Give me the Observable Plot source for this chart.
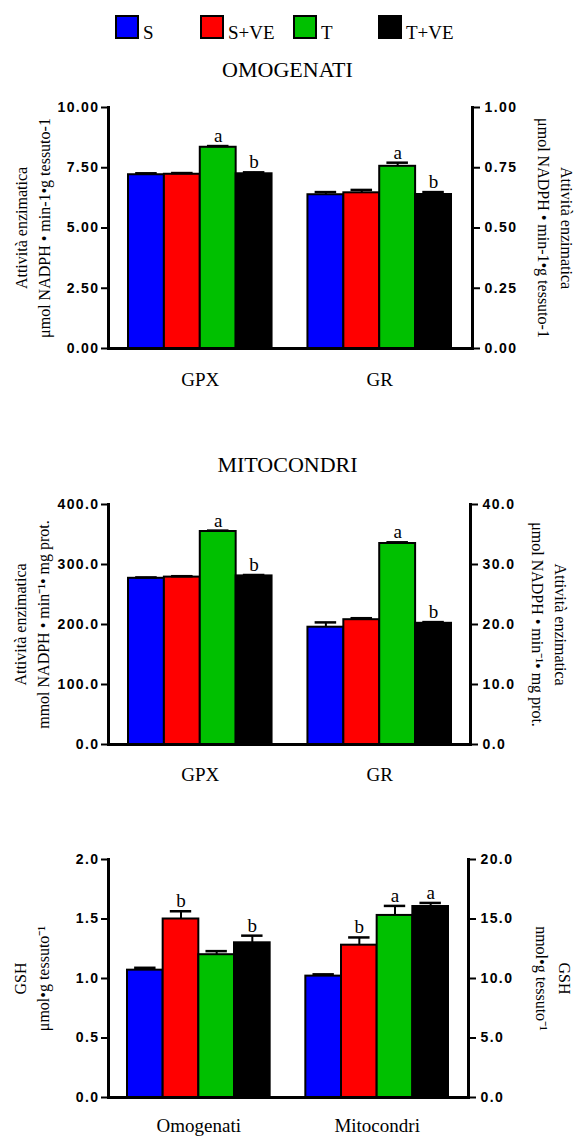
<!DOCTYPE html>
<html><head><meta charset="utf-8">
<script src="https://cdn.jsdelivr.net/npm/d3@7"></script>
<script src="https://cdn.jsdelivr.net/npm/@observablehq/plot@0.6"></script>
<style>
body{margin:0;background:#fff;}
#root{position:relative;width:575px;height:1136px;overflow:hidden;font-family:"Liberation Serif","Times New Roman",serif;color:#000;}
.title{position:absolute;left:0;width:575px;text-align:center;font-size:22px;line-height:1;}
.legend-item{position:absolute;top:15px;display:flex;align-items:flex-end;font-size:19px;line-height:1;}
.sw{width:20px;height:20px;border:2.5px solid #000;}
.legend-item span{margin-left:4px;position:relative;top:3px;}
.panel{position:absolute;left:0;}
.panel svg{overflow:visible;}
.panel g[aria-label="y-axis tick label"]{font:bold 14px "Liberation Sans",Arial,sans-serif;letter-spacing:1.4px;}
</style></head>
<body><div id="root"></div>
<script>
// ---- data ----
const series = ["S", "S+VE", "T", "T+VE"];
const seriesColors = ["#0000ff", "#ff0000", "#00c000", "#000000"];

// Panel 1: OMOGENATI
const p1Title = "OMOGENATI";
const p1Groups = ["GPX", "GR"];
const p1GPX = [7.21, 7.23, 8.35, 7.25];
const p1GPXErr = [0.06, 0.05, 0.05, 0.06];
const p1GR = [0.638, 0.646, 0.756, 0.639];
const p1GRErr = [0.011, 0.012, 0.015, 0.010];
const p1GPXLetters = ["", "", "a", "b"];
const p1GRLetters = ["", "", "a", "b"];
const p1LeftTicks = [0, 2.5, 5, 7.5, 10];
const p1RightTicks = [0, 0.25, 0.5, 0.75, 1];
const p1LeftTitle = "Attività enzimatica\nμmol NADPH • min-1•g tessuto-1";
const p1RightTitle = "Attività enzimatica\nμmol NADPH • min-1•g tessuto-1";

// Panel 2: MITOCONDRI
const p2Title = "MITOCONDRI";
const p2Groups = ["GPX", "GR"];
const p2GPX = [277, 279, 355, 281];
const p2GPXErr = [1.5, 1.5, 1.5, 1.5];
const p2GR = [19.55, 20.8, 33.5, 20.2];
const p2GRErr = [0.8, 0.25, 0.2, 0.2];
const p2GPXLetters = ["", "", "a", "b"];
const p2GRLetters = ["", "", "a", "b"];
const p2LeftTicks = [0, 100, 200, 300, 400];
const p2RightTicks = [0, 10, 20, 30, 40];
const p2LeftTitle = "Attività enzimatica\nmmol NADPH • min⁻¹• mg prot.";
const p2RightTitle = "Attività enzimatica\nμmol NADPH • min⁻¹• mg prot.";

// Panel 3: GSH
const p3Groups = ["Omogenati", "Mitocondri"];
const p3Omog = [1.07, 1.50, 1.20, 1.30];
const p3OmogErr = [0.02, 0.065, 0.03, 0.06];
const p3Mito = [10.2, 12.8, 15.3, 16.05];
const p3MitoErr = [0.15, 0.65, 0.8, 0.3];
const p3OmogLetters = ["", "b", "", "b"];
const p3MitoLetters = ["", "b", "a", "a"];
const p3LeftTicks = [0, 0.5, 1.0, 1.5, 2.0];
const p3RightTicks = [0, 5, 10, 15, 20];
const p3LeftTitle = "GSH\nμmol•g tessuto⁻¹";
const p3RightTitle = "GSH\nnmol•g tessuto⁻¹";

// ---- layout ----
const root = document.getElementById("root");
const serif = "Liberation Serif, Times New Roman, serif";

// legend
const legendLefts = [115, 200, 293, 378];
series.forEach((s, i) => {
  const it = document.createElement("div");
  it.className = "legend-item";
  it.style.left = legendLefts[i] + "px";
  const sw = document.createElement("div");
  sw.className = "sw";
  sw.style.background = seriesColors[i];
  const lb = document.createElement("span");
  lb.textContent = s;
  it.append(sw, lb);
  root.append(it);
});

function addTitle(text, top) {
  const t = document.createElement("div");
  t.className = "title";
  t.style.top = top + "px";
  t.textContent = text;
  root.append(t);
}

function panel(cfg) {
  const leftMax = d3.max(cfg.leftTicks), rightMax = d3.max(cfg.rightTicks);
  const factor = leftMax / rightMax;
  const nS = series.length;
  const rows = [];
  cfg.groups.forEach((g, gi) => {
    const f = gi === 0 ? 1 : factor;
    cfg.values[gi].forEach((v, si) => {
      rows.push({group: g, series: series[si], slot: gi * (nS + 1) + si,
        v: v * f, e: cfg.errs[gi][si] * f, letter: cfg.letters[gi][si]});
    });
  });
  const centers = new Map(cfg.groups.map((g, gi) => [gi * (nS + 1) + nS / 2, g]));
  const chart = Plot.plot({
    width: 575, height: cfg.height,
    marginTop: cfg.marginTop, marginBottom: cfg.marginBottom,
    marginLeft: 108, marginRight: cfg.marginRight,
    x: {type: "linear", domain: [0, cfg.groups.length * (nS + 1) - 1], insetLeft: cfg.insetLeft, insetRight: cfg.insetRight},
    y: {domain: [0, leftMax]},
    color: {domain: series, range: seriesColors},
    marks: [
      Plot.rect(rows, {x1: "slot", x2: d => d.slot + 1, y1: 0, y2: "v", fill: "series", stroke: "#000", strokeWidth: 2}),
      Plot.ruleX(rows, {x: d => d.slot + 0.5, y1: "v", y2: d => d.v + d.e, stroke: "#000", strokeWidth: 2}),
      Plot.ruleY(rows, {y: d => d.v + d.e, x1: d => d.slot + 0.2, x2: d => d.slot + 0.8, stroke: "#000", strokeWidth: 2.5}),
      Plot.text(rows.filter(d => d.letter), {x: d => d.slot + 0.5, y: d => d.v + d.e, text: "letter", lineAnchor: "bottom", dy: -4, fontSize: 19, fontFamily: serif, fill: "#000"}),
      Plot.ruleY([0], {stroke: "#000", strokeWidth: 3}),
      Plot.frame({anchor: "left", stroke: "#000", strokeWidth: 3}),
      Plot.frame({anchor: "right", stroke: "#000", strokeWidth: 3}),
      Plot.axisY({anchor: "left", ticks: cfg.leftTicks, tickFormat: d => d.toFixed(cfg.leftDigits), tickSize: 7, tickPadding: 2, strokeWidth: 2, label: null, fill: "#000", stroke: "#000"}),
      Plot.axisY({anchor: "right", ticks: cfg.rightTicks.map(t => t * factor), tickFormat: d => (d / factor).toFixed(cfg.rightDigits), tickSize: 7, tickPadding: 5, strokeWidth: 2, label: null, fill: "#000", stroke: "#000"}),
      Plot.axisX({ticks: [...centers.keys()], tickFormat: d => centers.get(d), tickSize: 0, tickPadding: cfg.xPad, fontSize: 19, fontFamily: serif, label: null, fill: "#000"}),
      Plot.text([cfg.leftTitle], {frameAnchor: "left", textAnchor: "middle", lineAnchor: "middle", rotate: -90, dx: cfg.leftDx, text: d => d, lineHeight: 1.4, fontSize: 16, fontFamily: serif, fill: "#000"}),
      Plot.text([cfg.rightTitle], {frameAnchor: "right", textAnchor: "middle", lineAnchor: "middle", rotate: 90, dx: cfg.rightDx, text: d => d, lineHeight: 1.4, fontSize: 16, fontFamily: serif, fill: "#000"})
    ]
  });
  const wrap = document.createElement("div");
  wrap.className = "panel";
  wrap.style.top = cfg.top + "px";
  wrap.append(chart);
  root.append(wrap);
}

addTitle(p1Title, 59);
panel({groups: p1Groups, values: [p1GPX, p1GR], errs: [p1GPXErr, p1GRErr], letters: [p1GPXLetters, p1GRLetters],
  leftTicks: p1LeftTicks, rightTicks: p1RightTicks, leftDigits: 2, rightDigits: 2,
  leftTitle: p1LeftTitle, rightTitle: p1RightTitle,
  top: 90, height: 300, marginTop: 17, marginBottom: 42, marginRight: 103, insetLeft: 20, insetRight: 21,
  xPad: 24, leftDx: -77, rightDx: 84});

addTitle(p2Title, 454);
panel({groups: p2Groups, values: [p2GPX, p2GR], errs: [p2GPXErr, p2GRErr], letters: [p2GPXLetters, p2GRLetters],
  leftTicks: p2LeftTicks, rightTicks: p2RightTicks, leftDigits: 1, rightDigits: 1,
  leftTitle: p2LeftTitle, rightTitle: p2RightTitle,
  top: 480, height: 306, marginTop: 24, marginBottom: 42, marginRight: 105, insetLeft: 20, insetRight: 19,
  xPad: 23, leftDx: -78, rightDx: 80});

panel({groups: p3Groups, values: [p3Omog, p3Mito], errs: [p3OmogErr, p3MitoErr], letters: [p3OmogLetters, p3MitoLetters],
  leftTicks: p3LeftTicks, rightTicks: p3RightTicks, leftDigits: 1, rightDigits: 1,
  leftTitle: p3LeftTitle, rightTitle: p3RightTitle,
  top: 836, height: 300, marginTop: 23, marginBottom: 39, marginRight: 107, insetLeft: 19, insetRight: 20,
  xPad: 21, leftDx: -78, rightDx: 86});
</script>
</body></html>
